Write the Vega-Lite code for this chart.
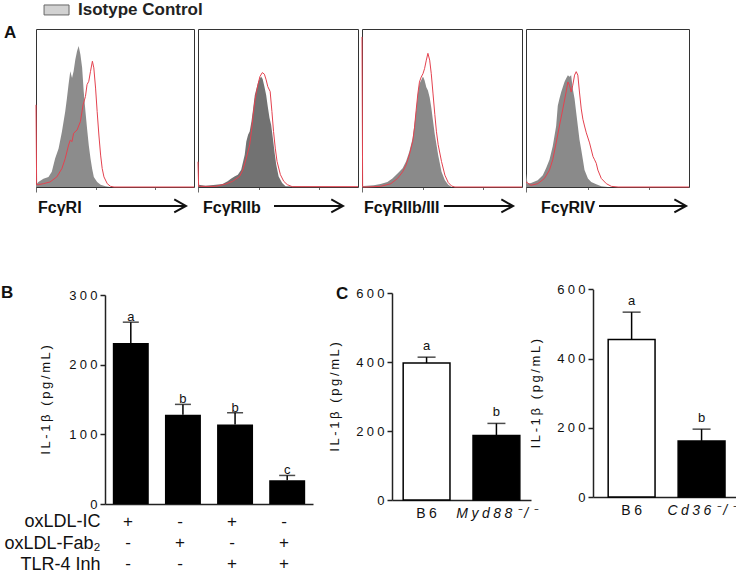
{
  "$schema": "https://vega.github.io/schema/vega-lite/v6.json",
  "background": "white",
  "padding": {"left": 0, "top": 0, "right": 0, "bottom": 0},
  "config": {
    "font": "Liberation Sans",
    "view": {"stroke": null},
    "axis": {"grid": false, "domainColor": "#222", "tickColor": "#222", "labelColor": "#111", "titleColor": "#111", "titleFontWeight": "normal", "labelFont": "Liberation Sans", "titleFont": "Liberation Sans"}
  },
  "datasets": {
    "fcgr1": [
      {"series": "Isotype Control", "x": 0, "y": 1.5}, {"series": "Isotype Control", "x": 15, "y": 3.2}, {"series": "Isotype Control", "x": 47, "y": 5.3}, {"series": "Isotype Control", "x": 79, "y": 6.4}, {"series": "Isotype Control", "x": 100, "y": 9.6}, {"series": "Isotype Control", "x": 121, "y": 18}, {"series": "Isotype Control", "x": 143, "y": 24.4}, {"series": "Isotype Control", "x": 164, "y": 35}, {"series": "Isotype Control", "x": 185, "y": 47.8}, {"series": "Isotype Control", "x": 196, "y": 56.3}, {"series": "Isotype Control", "x": 206, "y": 64.8}, {"series": "Isotype Control", "x": 217, "y": 73.2}, {"series": "Isotype Control", "x": 228, "y": 69}, {"series": "Isotype Control", "x": 238, "y": 73.2}, {"series": "Isotype Control", "x": 249, "y": 80.7}, {"series": "Isotype Control", "x": 260, "y": 86}, {"series": "Isotype Control", "x": 270, "y": 89.2}, {"series": "Isotype Control", "x": 281, "y": 83.9}, {"series": "Isotype Control", "x": 292, "y": 75.4}, {"series": "Isotype Control", "x": 302, "y": 60.5}, {"series": "Isotype Control", "x": 313, "y": 47.8}, {"series": "Isotype Control", "x": 323, "y": 37.2}, {"series": "Isotype Control", "x": 334, "y": 26.5}, {"series": "Isotype Control", "x": 345, "y": 18}, {"series": "Isotype Control", "x": 355, "y": 11.7}, {"series": "Isotype Control", "x": 366, "y": 6.4}, {"series": "Isotype Control", "x": 387, "y": 3.2}, {"series": "Isotype Control", "x": 409, "y": 1.5}, {"series": "Isotype Control", "x": 440, "y": 0.4}, {"series": "Isotype Control", "x": 472, "y": 0}, {"series": "Isotype Control", "x": 1000, "y": 0},
      {"series": "FcγR", "x": 0, "y": 52}, {"series": "FcγR", "x": 4, "y": 1.5}, {"series": "FcγR", "x": 15, "y": 1.5}, {"series": "FcγR", "x": 47, "y": 2.1}, {"series": "FcγR", "x": 89, "y": 3.2}, {"series": "FcγR", "x": 132, "y": 6.4}, {"series": "FcγR", "x": 164, "y": 11.7}, {"series": "FcγR", "x": 185, "y": 18}, {"series": "FcγR", "x": 206, "y": 26.5}, {"series": "FcγR", "x": 217, "y": 29.7}, {"series": "FcγR", "x": 228, "y": 28.7}, {"series": "FcγR", "x": 238, "y": 34}, {"series": "FcγR", "x": 260, "y": 36.1}, {"series": "FcγR", "x": 281, "y": 41.4}, {"series": "FcγR", "x": 298, "y": 52}, {"series": "FcγR", "x": 313, "y": 57.3}, {"series": "FcγR", "x": 323, "y": 64.8}, {"series": "FcγR", "x": 334, "y": 66.9}, {"series": "FcγR", "x": 345, "y": 73.2}, {"series": "FcγR", "x": 357, "y": 79.6}, {"series": "FcγR", "x": 366, "y": 75.4}, {"series": "FcγR", "x": 377, "y": 62.6}, {"series": "FcγR", "x": 387, "y": 47.8}, {"series": "FcγR", "x": 398, "y": 32.9}, {"series": "FcγR", "x": 409, "y": 20.2}, {"series": "FcγR", "x": 419, "y": 11.7}, {"series": "FcγR", "x": 430, "y": 6.4}, {"series": "FcγR", "x": 451, "y": 2.1}, {"series": "FcγR", "x": 472, "y": 0.4}, {"series": "FcγR", "x": 494, "y": 0}, {"series": "FcγR", "x": 1000, "y": 0}
    ],
    "fcgr2b": [
      {"series": "Isotype Control", "x": 0, "y": 1.5}, {"series": "Isotype Control", "x": 4, "y": 1.5}, {"series": "Isotype Control", "x": 47, "y": 0.8}, {"series": "Isotype Control", "x": 111, "y": 1.5}, {"series": "Isotype Control", "x": 153, "y": 1.9}, {"series": "Isotype Control", "x": 185, "y": 3.6}, {"series": "Isotype Control", "x": 206, "y": 5.3}, {"series": "Isotype Control", "x": 228, "y": 6.7}, {"series": "Isotype Control", "x": 249, "y": 7.8}, {"series": "Isotype Control", "x": 270, "y": 10.9}, {"series": "Isotype Control", "x": 292, "y": 20.4}, {"series": "Isotype Control", "x": 302, "y": 28.8}, {"series": "Isotype Control", "x": 313, "y": 33.1}, {"series": "Isotype Control", "x": 323, "y": 35.2}, {"series": "Isotype Control", "x": 334, "y": 41.5}, {"series": "Isotype Control", "x": 345, "y": 49.9}, {"series": "Isotype Control", "x": 355, "y": 58.3}, {"series": "Isotype Control", "x": 366, "y": 62.5}, {"series": "Isotype Control", "x": 377, "y": 66.7}, {"series": "Isotype Control", "x": 394, "y": 69.9}, {"series": "Isotype Control", "x": 404, "y": 68.4}, {"series": "Isotype Control", "x": 415, "y": 63.6}, {"series": "Isotype Control", "x": 426, "y": 58.3}, {"series": "Isotype Control", "x": 436, "y": 50.9}, {"series": "Isotype Control", "x": 447, "y": 43.6}, {"series": "Isotype Control", "x": 457, "y": 39.4}, {"series": "Isotype Control", "x": 468, "y": 30.9}, {"series": "Isotype Control", "x": 479, "y": 21.5}, {"series": "Isotype Control", "x": 489, "y": 14.1}, {"series": "Isotype Control", "x": 504, "y": 6.7}, {"series": "Isotype Control", "x": 526, "y": 2.5}, {"series": "Isotype Control", "x": 547, "y": 0.4}, {"series": "Isotype Control", "x": 1000, "y": 0},
      {"series": "FcγR", "x": 0, "y": 16}, {"series": "FcγR", "x": 4, "y": 0.4}, {"series": "FcγR", "x": 15, "y": 0.4}, {"series": "FcγR", "x": 111, "y": 0.4}, {"series": "FcγR", "x": 174, "y": 1.9}, {"series": "FcγR", "x": 217, "y": 3.6}, {"series": "FcγR", "x": 260, "y": 6.7}, {"series": "FcγR", "x": 281, "y": 10.9}, {"series": "FcγR", "x": 302, "y": 18.3}, {"series": "FcγR", "x": 323, "y": 26.7}, {"series": "FcγR", "x": 334, "y": 35.2}, {"series": "FcγR", "x": 345, "y": 45.7}, {"series": "FcγR", "x": 355, "y": 54.1}, {"series": "FcγR", "x": 366, "y": 60.4}, {"series": "FcγR", "x": 377, "y": 65.7}, {"series": "FcγR", "x": 387, "y": 69.9}, {"series": "FcγR", "x": 402, "y": 72.4}, {"series": "FcγR", "x": 415, "y": 71.4}, {"series": "FcγR", "x": 426, "y": 67.8}, {"series": "FcγR", "x": 436, "y": 63.6}, {"series": "FcγR", "x": 451, "y": 60.4}, {"series": "FcγR", "x": 462, "y": 47.8}, {"series": "FcγR", "x": 472, "y": 35.2}, {"series": "FcγR", "x": 483, "y": 24.6}, {"series": "FcγR", "x": 494, "y": 16.2}, {"series": "FcγR", "x": 515, "y": 7.8}, {"series": "FcγR", "x": 536, "y": 3.6}, {"series": "FcγR", "x": 558, "y": 1.5}, {"series": "FcγR", "x": 589, "y": 0.2}, {"series": "FcγR", "x": 1000, "y": 0.2}
    ],
    "fcgr23": [
      {"series": "Isotype Control", "x": 0, "y": 0.6}, {"series": "Isotype Control", "x": 11, "y": 0.6}, {"series": "Isotype Control", "x": 74, "y": 1.1}, {"series": "Isotype Control", "x": 116, "y": 1.9}, {"series": "Isotype Control", "x": 159, "y": 3.2}, {"series": "Isotype Control", "x": 190, "y": 5.4}, {"series": "Isotype Control", "x": 211, "y": 7.5}, {"series": "Isotype Control", "x": 233, "y": 9.6}, {"series": "Isotype Control", "x": 254, "y": 11.8}, {"series": "Isotype Control", "x": 275, "y": 16.1}, {"series": "Isotype Control", "x": 296, "y": 22.5}, {"series": "Isotype Control", "x": 317, "y": 31}, {"series": "Isotype Control", "x": 328, "y": 39.6}, {"series": "Isotype Control", "x": 338, "y": 48.2}, {"series": "Isotype Control", "x": 349, "y": 58.9}, {"series": "Isotype Control", "x": 359, "y": 65.3}, {"series": "Isotype Control", "x": 370, "y": 67.5}, {"series": "Isotype Control", "x": 381, "y": 70}, {"series": "Isotype Control", "x": 391, "y": 67.5}, {"series": "Isotype Control", "x": 402, "y": 63.2}, {"series": "Isotype Control", "x": 412, "y": 61}, {"series": "Isotype Control", "x": 423, "y": 56.7}, {"series": "Isotype Control", "x": 433, "y": 50.3}, {"series": "Isotype Control", "x": 444, "y": 41.8}, {"series": "Isotype Control", "x": 455, "y": 33.2}, {"series": "Isotype Control", "x": 476, "y": 20.3}, {"series": "Isotype Control", "x": 497, "y": 9.6}, {"series": "Isotype Control", "x": 518, "y": 4.3}, {"series": "Isotype Control", "x": 539, "y": 1.5}, {"series": "Isotype Control", "x": 560, "y": 0}, {"series": "Isotype Control", "x": 1000, "y": 0},
      {"series": "FcγR", "x": 0, "y": 95}, {"series": "FcγR", "x": 4, "y": 0}, {"series": "FcγR", "x": 21, "y": 0}, {"series": "FcγR", "x": 116, "y": 0.4}, {"series": "FcγR", "x": 180, "y": 2.1}, {"series": "FcγR", "x": 222, "y": 5.4}, {"series": "FcγR", "x": 254, "y": 9.6}, {"series": "FcγR", "x": 275, "y": 13.9}, {"series": "FcγR", "x": 296, "y": 20.3}, {"series": "FcγR", "x": 317, "y": 28.9}, {"series": "FcγR", "x": 328, "y": 37.5}, {"series": "FcγR", "x": 338, "y": 48.2}, {"series": "FcγR", "x": 349, "y": 58.9}, {"series": "FcγR", "x": 359, "y": 66.4}, {"series": "FcγR", "x": 370, "y": 69.6}, {"series": "FcγR", "x": 381, "y": 71.7}, {"series": "FcγR", "x": 391, "y": 74.9}, {"series": "FcγR", "x": 402, "y": 80.3}, {"series": "FcγR", "x": 412, "y": 84.6}, {"series": "FcγR", "x": 423, "y": 80.3}, {"series": "FcγR", "x": 433, "y": 71.7}, {"series": "FcγR", "x": 444, "y": 58.9}, {"series": "FcγR", "x": 455, "y": 46}, {"series": "FcγR", "x": 465, "y": 35.3}, {"series": "FcγR", "x": 476, "y": 26.8}, {"series": "FcγR", "x": 497, "y": 16.1}, {"series": "FcγR", "x": 518, "y": 7.5}, {"series": "FcγR", "x": 539, "y": 2.8}, {"series": "FcγR", "x": 560, "y": 0.6}, {"series": "FcγR", "x": 581, "y": 0}, {"series": "FcγR", "x": 1000, "y": 0}
    ],
    "fcgr4": [
      {"series": "Isotype Control", "x": 0, "y": 8.6}, {"series": "Isotype Control", "x": 10, "y": 2.1}, {"series": "Isotype Control", "x": 31, "y": 2.6}, {"series": "Isotype Control", "x": 72, "y": 4.3}, {"series": "Isotype Control", "x": 103, "y": 7.5}, {"series": "Isotype Control", "x": 123, "y": 11.8}, {"series": "Isotype Control", "x": 144, "y": 17.2}, {"series": "Isotype Control", "x": 164, "y": 25.8}, {"series": "Isotype Control", "x": 185, "y": 38.6}, {"series": "Isotype Control", "x": 195, "y": 51.5}, {"series": "Isotype Control", "x": 205, "y": 55.8}, {"series": "Isotype Control", "x": 216, "y": 60.1}, {"series": "Isotype Control", "x": 226, "y": 63.3}, {"series": "Isotype Control", "x": 236, "y": 66.5}, {"series": "Isotype Control", "x": 246, "y": 68.7}, {"series": "Isotype Control", "x": 257, "y": 70.8}, {"series": "Isotype Control", "x": 267, "y": 69.7}, {"series": "Isotype Control", "x": 277, "y": 70.8}, {"series": "Isotype Control", "x": 287, "y": 62.2}, {"series": "Isotype Control", "x": 298, "y": 55.8}, {"series": "Isotype Control", "x": 308, "y": 47.2}, {"series": "Isotype Control", "x": 318, "y": 38.6}, {"series": "Isotype Control", "x": 328, "y": 30}, {"series": "Isotype Control", "x": 339, "y": 23.6}, {"series": "Isotype Control", "x": 349, "y": 17.2}, {"series": "Isotype Control", "x": 359, "y": 10.7}, {"series": "Isotype Control", "x": 380, "y": 5.4}, {"series": "Isotype Control", "x": 400, "y": 3.2}, {"series": "Isotype Control", "x": 431, "y": 1.7}, {"series": "Isotype Control", "x": 462, "y": 0.4}, {"series": "Isotype Control", "x": 503, "y": 0}, {"series": "Isotype Control", "x": 1000, "y": 0},
      {"series": "FcγR", "x": 0, "y": 3.2}, {"series": "FcγR", "x": 31, "y": 1.1}, {"series": "FcγR", "x": 72, "y": 2.1}, {"series": "FcγR", "x": 113, "y": 5.4}, {"series": "FcγR", "x": 144, "y": 10.7}, {"series": "FcγR", "x": 164, "y": 17.2}, {"series": "FcγR", "x": 185, "y": 27.9}, {"series": "FcγR", "x": 205, "y": 38.6}, {"series": "FcγR", "x": 226, "y": 49.4}, {"series": "FcγR", "x": 246, "y": 60.1}, {"series": "FcγR", "x": 257, "y": 66.5}, {"series": "FcγR", "x": 267, "y": 64.4}, {"series": "FcγR", "x": 277, "y": 60.1}, {"series": "FcγR", "x": 287, "y": 64.4}, {"series": "FcγR", "x": 298, "y": 70.8}, {"series": "FcγR", "x": 308, "y": 73}, {"series": "FcγR", "x": 318, "y": 70.8}, {"series": "FcγR", "x": 328, "y": 60.1}, {"series": "FcγR", "x": 339, "y": 49.4}, {"series": "FcγR", "x": 349, "y": 42.9}, {"series": "FcγR", "x": 359, "y": 38.6}, {"series": "FcγR", "x": 370, "y": 34.3}, {"series": "FcγR", "x": 390, "y": 27.9}, {"series": "FcγR", "x": 411, "y": 19.3}, {"series": "FcγR", "x": 421, "y": 17.2}, {"series": "FcγR", "x": 431, "y": 15}, {"series": "FcγR", "x": 441, "y": 10.7}, {"series": "FcγR", "x": 462, "y": 5.4}, {"series": "FcγR", "x": 493, "y": 2.1}, {"series": "FcγR", "x": 524, "y": 0.4}, {"series": "FcγR", "x": 565, "y": 0}, {"series": "FcγR", "x": 1000, "y": 0}
    ],
    "panelB": [
      {"treatment": "IC", "il1b": 231, "upper": 261, "letter": "a"},
      {"treatment": "Fab2", "il1b": 128, "upper": 143, "letter": "b"},
      {"treatment": "IC+TLR4i", "il1b": 114, "upper": 131, "letter": "b"},
      {"treatment": "Fab2+TLR4i", "il1b": 34, "upper": 41, "letter": "c"}
    ],
    "panelBDesign": [
      {"treatment": "IC", "factor": "oxLDL-IC", "sign": "+"},
      {"treatment": "IC", "factor": "oxLDL-Fab₂", "sign": "-"},
      {"treatment": "IC", "factor": "TLR-4 Inh", "sign": "-"},
      {"treatment": "Fab2", "factor": "oxLDL-IC", "sign": "-"},
      {"treatment": "Fab2", "factor": "oxLDL-Fab₂", "sign": "+"},
      {"treatment": "Fab2", "factor": "TLR-4 Inh", "sign": "-"},
      {"treatment": "IC+TLR4i", "factor": "oxLDL-IC", "sign": "+"},
      {"treatment": "IC+TLR4i", "factor": "oxLDL-Fab₂", "sign": "-"},
      {"treatment": "IC+TLR4i", "factor": "TLR-4 Inh", "sign": "+"},
      {"treatment": "Fab2+TLR4i", "factor": "oxLDL-IC", "sign": "-"},
      {"treatment": "Fab2+TLR4i", "factor": "oxLDL-Fab₂", "sign": "+"},
      {"treatment": "Fab2+TLR4i", "factor": "TLR-4 Inh", "sign": "+"}
    ],
    "panelC1": [
      {"strain": "B6", "il1b": 397, "upper": 414, "letter": "a"},
      {"strain": "Myd88⁻/⁻", "il1b": 187, "upper": 222, "letter": "b"}
    ],
    "panelC2": [
      {"strain": "B6", "il1b": 455, "upper": 534, "letter": "a"},
      {"strain": "Cd36⁻/⁻", "il1b": 162, "upper": 196, "letter": "b"}
    ]
  },
  "vconcat": [
    {
      "hconcat": [
        {
          "width": 158, "height": 158,
          "view": {"stroke": "#333"},
          "layer": [
            {
              "data": {"name": "fcgr1"},
              "transform": [{"filter": "datum.series === 'Isotype Control'"}],
              "mark": {"type": "area", "color": "#8c8c8c"},
              "encoding": {
                "x": {"field": "x", "type": "quantitative", "scale": {"domain": [0, 1000], "nice": false, "zero": false}, "axis": {"values": [0,60.2,95.4,120.4,139.8,155.6,169,180.6,190.8,200,260.2,295.4,320.4,339.8,355.6,369,380.6,390.8,400,460.2,495.4,520.4,539.8,555.6,569,580.6,590.8,600,660.2,695.4,720.4,739.8,755.6,769,780.6,790.8,800,860.2,895.4,920.4,939.8,955.6,969,980.6,990.8,1000], "labels": false, "domain": false, "ticks": true, "tickSize": {"condition": {"test": "datum.value % 200 === 0", "value": 5}, "value": 2.5}, "tickColor": "#444", "tickWidth": 0.8, "title": null, "grid": false}},
                "y": {"field": "y", "type": "quantitative", "scale": {"domain": [0, 100], "nice": false}, "axis": null}
              }
            },
            {
              "data": {"name": "fcgr1"},
              "transform": [{"filter": "datum.series === 'FcγR'"}],
              "mark": {"type": "line", "color": "#e4424f", "strokeWidth": 1},
              "encoding": {"x": {"field": "x", "type": "quantitative"}, "y": {"field": "y", "type": "quantitative"}}
            },
            {
              "data": {"values": [{"series": "Isotype Control"}]},
              "mark": {"type": "rect", "fill": "#d2d2d2", "stroke": "#666", "strokeWidth": 1},
              "encoding": {"x": {"datum": 51}, "x2": {"datum": 209}, "y": {"datum": 115.2}, "y2": {"datum": 108.9}}
            },
            {
              "data": {"values": [{"series": "Isotype Control"}]},
              "mark": {"type": "text", "align": "left", "baseline": "middle", "fontSize": 17, "fontWeight": "bold", "color": "#222"},
              "encoding": {"x": {"datum": 266}, "y": {"datum": 112.3}, "text": {"field": "series"}}
            },
            {
              "data": {"values": [{"panel": "A"}]},
              "mark": {"type": "text", "align": "left", "baseline": "alphabetic", "fontSize": 17, "fontWeight": "bold", "color": "#111"},
              "encoding": {"x": {"datum": -202.5}, "y": {"datum": 94.3}, "text": {"field": "panel"}}
            },
            {
              "data": {"values": [{"label": "FcγRI"}]},
              "mark": {"type": "text", "align": "left", "baseline": "middle", "fontSize": 16, "fontWeight": "bold", "color": "#111"},
              "encoding": {"x": {"datum": 13}, "y": {"datum": -13.5}, "text": {"field": "label"}}
            },
            {
              "data": {"values": [{}]},
              "mark": {"type": "rule", "strokeWidth": 2, "color": "#111"},
              "encoding": {"x": {"datum": 399}, "x2": {"datum": 949}, "y": {"datum": -12}}
            },
            {
              "data": {"values": [{}]},
              "mark": {"type": "point", "shape": "M-1.8,-1L0,0L-1.8,1", "filled": false, "size": 169, "strokeWidth": 2, "color": "#111", "opacity": 1},
              "encoding": {"x": {"datum": 949}, "y": {"datum": -12}}
            }
          ]
        },
        {
          "width": 160, "height": 158,
          "view": {"stroke": "#333"},
          "layer": [
            {
              "data": {"name": "fcgr2b"},
              "transform": [{"filter": "datum.series === 'Isotype Control'"}],
              "mark": {"type": "area", "color": "#727272"},
              "encoding": {
                "x": {"field": "x", "type": "quantitative", "scale": {"domain": [0, 1000], "nice": false, "zero": false}, "axis": {"values": [0,60.2,95.4,120.4,139.8,155.6,169,180.6,190.8,200,260.2,295.4,320.4,339.8,355.6,369,380.6,390.8,400,460.2,495.4,520.4,539.8,555.6,569,580.6,590.8,600,660.2,695.4,720.4,739.8,755.6,769,780.6,790.8,800,860.2,895.4,920.4,939.8,955.6,969,980.6,990.8,1000], "labels": false, "domain": false, "ticks": true, "tickSize": {"condition": {"test": "datum.value % 200 === 0", "value": 5}, "value": 2.5}, "tickColor": "#444", "tickWidth": 0.8, "title": null, "grid": false}},
                "y": {"field": "y", "type": "quantitative", "scale": {"domain": [0, 100], "nice": false}, "axis": null}
              }
            },
            {
              "data": {"name": "fcgr2b"},
              "transform": [{"filter": "datum.series === 'FcγR'"}],
              "mark": {"type": "line", "color": "#e4424f", "strokeWidth": 1},
              "encoding": {"x": {"field": "x", "type": "quantitative"}, "y": {"field": "y", "type": "quantitative"}}
            },
            {
              "data": {"values": [{"label": "FcγRIIb"}]},
              "mark": {"type": "text", "align": "left", "baseline": "middle", "fontSize": 16, "fontWeight": "bold", "color": "#111"},
              "encoding": {"x": {"datum": 31}, "y": {"datum": -13.5}, "text": {"field": "label"}}
            },
            {
              "data": {"values": [{}]},
              "mark": {"type": "rule", "strokeWidth": 2, "color": "#111"},
              "encoding": {"x": {"datum": 475}, "x2": {"datum": 906}, "y": {"datum": -12}}
            },
            {
              "data": {"values": [{}]},
              "mark": {"type": "point", "shape": "M-1.8,-1L0,0L-1.8,1", "filled": false, "size": 169, "strokeWidth": 2, "color": "#111", "opacity": 1},
              "encoding": {"x": {"datum": 906}, "y": {"datum": -12}}
            }
          ]
        },
        {
          "width": 160, "height": 158,
          "view": {"stroke": "#333"},
          "layer": [
            {
              "data": {"name": "fcgr23"},
              "transform": [{"filter": "datum.series === 'Isotype Control'"}],
              "mark": {"type": "area", "color": "#8a8a8a"},
              "encoding": {
                "x": {"field": "x", "type": "quantitative", "scale": {"domain": [0, 1000], "nice": false, "zero": false}, "axis": {"values": [0,60.2,95.4,120.4,139.8,155.6,169,180.6,190.8,200,260.2,295.4,320.4,339.8,355.6,369,380.6,390.8,400,460.2,495.4,520.4,539.8,555.6,569,580.6,590.8,600,660.2,695.4,720.4,739.8,755.6,769,780.6,790.8,800,860.2,895.4,920.4,939.8,955.6,969,980.6,990.8,1000], "labels": false, "domain": false, "ticks": true, "tickSize": {"condition": {"test": "datum.value % 200 === 0", "value": 5}, "value": 2.5}, "tickColor": "#444", "tickWidth": 0.8, "title": null, "grid": false}},
                "y": {"field": "y", "type": "quantitative", "scale": {"domain": [0, 100], "nice": false}, "axis": null}
              }
            },
            {
              "data": {"name": "fcgr23"},
              "transform": [{"filter": "datum.series === 'FcγR'"}],
              "mark": {"type": "line", "color": "#e4424f", "strokeWidth": 1},
              "encoding": {"x": {"field": "x", "type": "quantitative"}, "y": {"field": "y", "type": "quantitative"}}
            },
            {
              "data": {"values": [{"label": "FcγRIIb/III"}]},
              "mark": {"type": "text", "align": "left", "baseline": "middle", "fontSize": 16, "fontWeight": "bold", "color": "#111"},
              "encoding": {"x": {"datum": 12}, "y": {"datum": -13.5}, "text": {"field": "label"}}
            },
            {
              "data": {"values": [{}]},
              "mark": {"type": "rule", "strokeWidth": 2, "color": "#111"},
              "encoding": {"x": {"datum": 512}, "x2": {"datum": 944}, "y": {"datum": -12}}
            },
            {
              "data": {"values": [{}]},
              "mark": {"type": "point", "shape": "M-1.8,-1L0,0L-1.8,1", "filled": false, "size": 169, "strokeWidth": 2, "color": "#111", "opacity": 1},
              "encoding": {"x": {"datum": 944}, "y": {"datum": -12}}
            }
          ]
        },
        {
          "width": 163, "height": 158,
          "view": {"stroke": "#333"},
          "layer": [
            {
              "data": {"name": "fcgr4"},
              "transform": [{"filter": "datum.series === 'Isotype Control'"}],
              "mark": {"type": "area", "color": "#8a8a8a"},
              "encoding": {
                "x": {"field": "x", "type": "quantitative", "scale": {"domain": [0, 1000], "nice": false, "zero": false}, "axis": {"values": [0,60.2,95.4,120.4,139.8,155.6,169,180.6,190.8,200,260.2,295.4,320.4,339.8,355.6,369,380.6,390.8,400,460.2,495.4,520.4,539.8,555.6,569,580.6,590.8,600,660.2,695.4,720.4,739.8,755.6,769,780.6,790.8,800,860.2,895.4,920.4,939.8,955.6,969,980.6,990.8,1000], "labels": false, "domain": false, "ticks": true, "tickSize": {"condition": {"test": "datum.value % 200 === 0", "value": 5}, "value": 2.5}, "tickColor": "#444", "tickWidth": 0.8, "title": null, "grid": false}},
                "y": {"field": "y", "type": "quantitative", "scale": {"domain": [0, 100], "nice": false}, "axis": null}
              }
            },
            {
              "data": {"name": "fcgr4"},
              "transform": [{"filter": "datum.series === 'FcγR'"}],
              "mark": {"type": "line", "color": "#e4424f", "strokeWidth": 1},
              "encoding": {"x": {"field": "x", "type": "quantitative"}, "y": {"field": "y", "type": "quantitative"}}
            },
            {
              "data": {"values": [{"label": "FcγRIV"}]},
              "mark": {"type": "text", "align": "left", "baseline": "middle", "fontSize": 16, "fontWeight": "bold", "color": "#111"},
              "encoding": {"x": {"datum": 92}, "y": {"datum": -13.5}, "text": {"field": "label"}}
            },
            {
              "data": {"values": [{}]},
              "mark": {"type": "rule", "strokeWidth": 2, "color": "#111"},
              "encoding": {"x": {"datum": 448}, "x2": {"datum": 982}, "y": {"datum": -12}}
            },
            {
              "data": {"values": [{}]},
              "mark": {"type": "point", "shape": "M-1.8,-1L0,0L-1.8,1", "filled": false, "size": 169, "strokeWidth": 2, "color": "#111", "opacity": 1},
              "encoding": {"x": {"datum": 982}, "y": {"datum": -12}}
            }
          ]
        }
      ],
      "spacing": 4,
      "bounds": "flush"
    },
    {
      "hconcat": [
        {
          "hconcat": [
            {"width": 10, "height": 10, "data": {"values": []}, "mark": {"type": "text"}, "encoding": {}}
          ],
          "bounds": "flush"
        },
        {
          "hconcat": [
            {
              "vconcat": [
                {
                  "width": 208, "height": 215,
                  "data": {"name": "panelB"},
                  "encoding": {
                    "x": {"field": "treatment", "type": "nominal", "sort": null, "scale": {"domain": ["IC", "Fab2", "IC+TLR4i", "Fab2+TLR4i"], "paddingInner": 0.31, "paddingOuter": 0.15}, "axis": {"labels": false, "ticks": false, "title": null, "domainWidth": 1.5}}
                  },
                  "layer": [
                    {
                      "mark": {"type": "bar", "color": "#000"},
                      "encoding": {
                        "y": {"field": "il1b", "type": "quantitative", "scale": {"domain": [0, 300], "range": [215, 6], "nice": false}, "axis": {"values": [0, 100, 200, 300], "tickSize": 5, "tickWidth": 1.5, "domainWidth": 1.5, "labelFontSize": 13, "labelPadding": 3, "labelExpr": "join(split(datum.label, ''), '\u2005')", "title": "I\u2009L\u2009-\u20091\u2009β\u2009 \u2009(\u2009p\u2009g\u2009/\u2009m\u2009L\u2009)", "titleFontSize": 13, "titlePadding": 16}}
                      }
                    },
                    {
                      "mark": {"type": "rule", "color": "#000", "strokeWidth": 1.5},
                      "encoding": {"y": {"field": "il1b", "type": "quantitative"}, "y2": {"field": "upper"}}
                    },
                    {
                      "mark": {"type": "tick", "color": "#000", "size": 16, "thickness": 1.5},
                      "encoding": {"y": {"field": "upper", "type": "quantitative"}}
                    },
                    {
                      "mark": {"type": "text", "baseline": "alphabetic", "dy": -1, "fontSize": 13, "color": "#111"},
                      "encoding": {"y": {"field": "upper", "type": "quantitative"}, "text": {"field": "letter"}}
                    },
                    {
                      "data": {"values": [{"panel": "B"}]},
                      "mark": {"type": "text", "align": "left", "baseline": "alphabetic", "fontSize": 17, "fontWeight": "bold", "color": "#111"},
                      "encoding": {"x": {"datum": "IC", "type": "nominal", "bandPosition": -3.109}, "y": {"datum": 295.7, "type": "quantitative"}, "text": {"field": "panel"}}
                    }
                  ]
                },
                {
                  "width": 208, "height": 64,
                  "data": {"name": "panelBDesign"},
                  "mark": {"type": "text", "fontSize": 17, "color": "#111", "dx": -3},
                  "encoding": {
                    "x": {"field": "treatment", "type": "nominal", "sort": null, "scale": {"domain": ["IC", "Fab2", "IC+TLR4i", "Fab2+TLR4i"], "paddingInner": 0.31, "paddingOuter": 0.15}, "axis": null},
                    "y": {"field": "factor", "type": "nominal", "sort": null, "scale": {"domain": ["oxLDL-IC", "oxLDL-Fab₂", "TLR-4 Inh"]}, "axis": {"title": null, "domain": false, "ticks": false, "tickSize": 0, "labelFontSize": 18, "labelPadding": 5, "labelColor": "#111"}},
                    "text": {"field": "sign"}
                  }
                }
              ],
              "spacing": 7,
              "bounds": "flush"
            },
            {
              "hconcat": [
                {
                  "width": 139, "height": 215,
                  "data": {"name": "panelC1"},
                  "encoding": {
                    "x": {"field": "strain", "type": "nominal", "sort": null, "scale": {"domain": ["B6", "Myd88⁻/⁻"], "paddingInner": 0.33, "paddingOuter": 0.16}, "axis": {"title": null, "ticks": false, "domainWidth": 1.5, "labelFontSize": 14, "labelPadding": 6, "labelAngle": 0, "offset": -4, "labelColor": "#111", "labelExpr": "join(split(datum.label, ''), '\u2005')", "labelFontStyle": {"condition": {"test": "datum.value === 'B6'", "value": "normal"}, "value": "italic"}}}
                  },
                  "layer": [
                    {
                      "mark": {"type": "bar", "stroke": "#000", "strokeWidth": 1.5},
                      "encoding": {
                        "y": {"field": "il1b", "type": "quantitative", "scale": {"domain": [0, 600], "range": [211, 4], "nice": false}, "axis": {"values": [0, 200, 400, 600], "tickSize": 5, "tickWidth": 1.5, "domainWidth": 1.5, "labelFontSize": 13, "labelPadding": 3, "labelExpr": "join(split(datum.label, ''), '\u2005')", "title": "I\u2009L\u2009-\u20091\u2009β\u2009 \u2009(\u2009p\u2009g\u2009/\u2009m\u2009L\u2009)", "titleFontSize": 13, "titlePadding": 14}},
                        "fill": {"condition": {"test": "datum.strain === 'B6'", "value": "#ffffff"}, "value": "#000000"}
                      }
                    },
                    {
                      "mark": {"type": "rule", "color": "#000", "strokeWidth": 1.5},
                      "encoding": {"y": {"field": "il1b", "type": "quantitative"}, "y2": {"field": "upper"}}
                    },
                    {
                      "mark": {"type": "tick", "color": "#000", "size": 18, "thickness": 1.5},
                      "encoding": {"y": {"field": "upper", "type": "quantitative"}}
                    },
                    {
                      "mark": {"type": "text", "baseline": "alphabetic", "dy": -7, "fontSize": 13, "color": "#111"},
                      "encoding": {"y": {"field": "upper", "type": "quantitative"}, "text": {"field": "letter"}}
                    },
                    {
                      "data": {"values": [{"panel": "C"}]},
                      "mark": {"type": "text", "align": "left", "baseline": "alphabetic", "fontSize": 17, "fontWeight": "bold", "color": "#111"},
                      "encoding": {"x": {"datum": "B6", "type": "nominal", "bandPosition": -1.435}, "y": {"datum": 582.6, "type": "quantitative"}, "text": {"field": "panel"}}
                    }
                  ]
                },
                {
                  "width": 143, "height": 215,
                  "data": {"name": "panelC2"},
                  "encoding": {
                    "x": {"field": "strain", "type": "nominal", "sort": null, "scale": {"domain": ["B6", "Cd36⁻/⁻"], "paddingInner": 0.33, "paddingOuter": 0.187, "align": 0.58}, "axis": {"title": null, "ticks": false, "domainWidth": 1.5, "labelFontSize": 14, "labelPadding": 6, "labelAngle": 0, "offset": -7, "labelColor": "#111", "labelExpr": "join(split(datum.label, ''), '\u2005')", "labelFontStyle": {"condition": {"test": "datum.value === 'B6'", "value": "normal"}, "value": "italic"}}}
                  },
                  "layer": [
                    {
                      "mark": {"type": "bar", "stroke": "#000", "strokeWidth": 1.5},
                      "encoding": {
                        "y": {"field": "il1b", "type": "quantitative", "scale": {"domain": [0, 600], "range": [208, 0.3], "nice": false}, "axis": {"values": [0, 200, 400, 600], "tickSize": 5, "tickWidth": 1.5, "domainWidth": 1.5, "labelFontSize": 13, "labelPadding": 3, "labelExpr": "join(split(datum.label, ''), '\u2005')", "title": "I\u2009L\u2009-\u20091\u2009β\u2009 \u2009(\u2009p\u2009g\u2009/\u2009m\u2009L\u2009)", "titleFontSize": 13, "titlePadding": 14}},
                        "fill": {"condition": {"test": "datum.strain === 'B6'", "value": "#ffffff"}, "value": "#000000"}
                      }
                    },
                    {
                      "mark": {"type": "rule", "color": "#000", "strokeWidth": 1.5},
                      "encoding": {"y": {"field": "il1b", "type": "quantitative"}, "y2": {"field": "upper"}}
                    },
                    {
                      "mark": {"type": "tick", "color": "#000", "size": 18, "thickness": 1.5},
                      "encoding": {"y": {"field": "upper", "type": "quantitative"}}
                    },
                    {
                      "mark": {"type": "text", "baseline": "alphabetic", "dy": -7, "fontSize": 13, "color": "#111"},
                      "encoding": {"y": {"field": "upper", "type": "quantitative"}, "text": {"field": "letter"}}
                    }
                  ]
                }
              ],
              "spacing": 62,
              "bounds": "flush"
            }
          ],
          "spacing": 287,
          "bounds": "flush"
        }
      ],
      "spacing": 69,
      "bounds": "flush"
    }
  ],
  "spacing": 260,
  "bounds": "flush"
}
